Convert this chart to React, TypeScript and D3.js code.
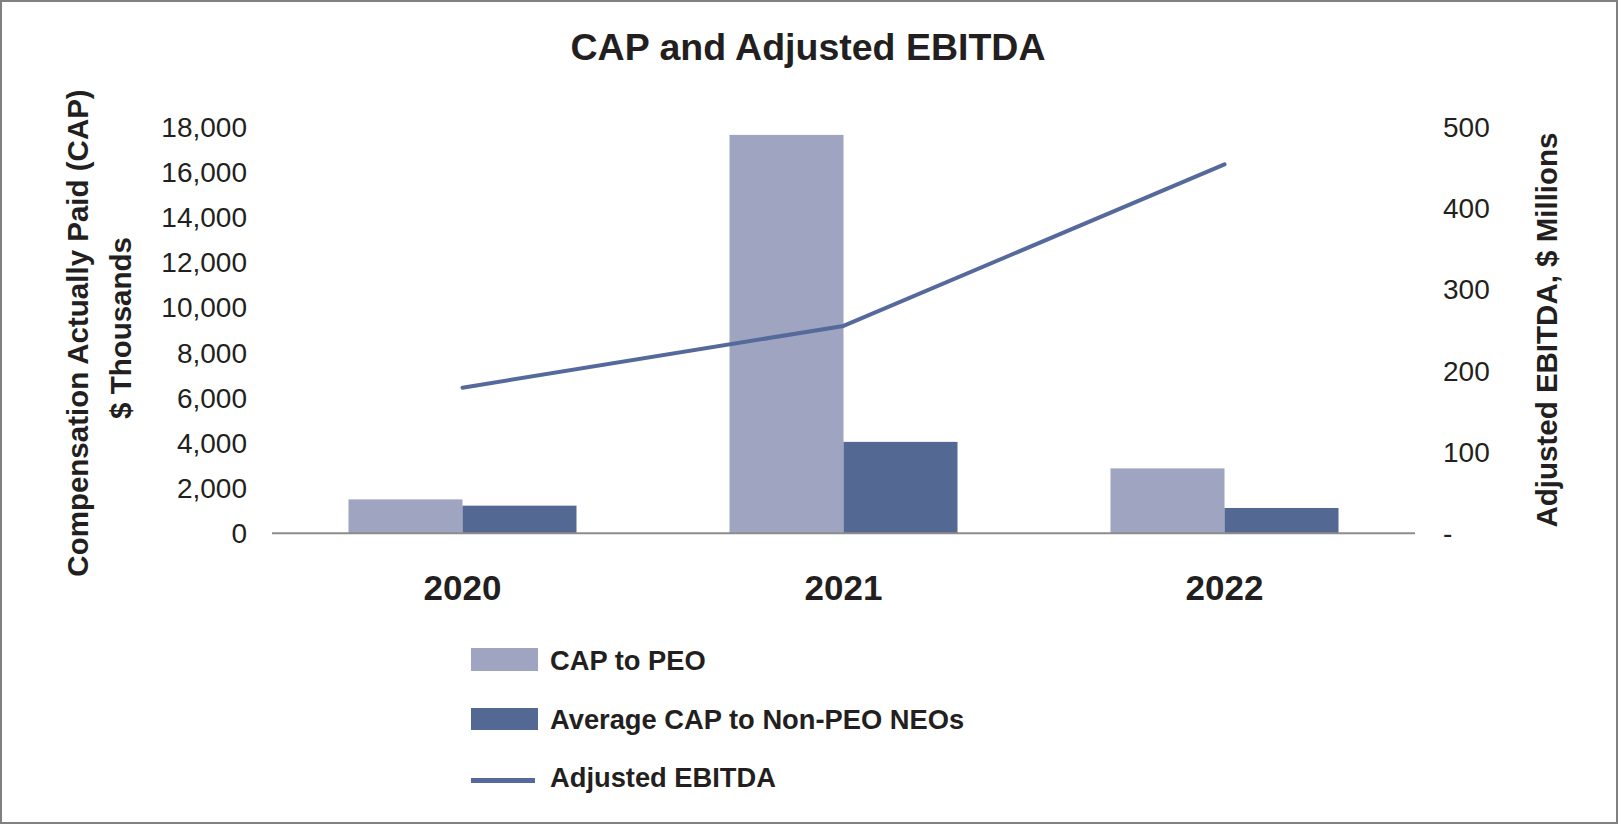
import React from "react";
import * as d3 from "d3";

const years = ["2020", "2021", "2022"];
const capPEO = [1490, 17650, 2865];
const capNEO = [1212, 4040, 1110];
const ebitda = [179, 255, 454];
const leftTicks = [0, 2000, 4000, 6000, 8000, 10000, 12000, 14000, 16000, 18000];
const rightTicks = [0, 100, 200, 300, 400, 500];
const seriesKeys = ["peo", "neo"];
const legendLabels = ["CAP to PEO", "Average CAP to Non-PEO NEOs", "Adjusted EBITDA"];

const W = 1618;
const H = 824;
const FONT = "'Liberation Sans', Arial, Helvetica, sans-serif";
const TEXT = "#231f20";
const C_PEO = "#9fa4c1";
const C_NEO = "#536893";
const C_LINE = "#55699b";

export default function App() {
  const x = d3.scaleBand<string>().domain(years).range([272, 1415]).padding(0);
  const x1 = d3
    .scaleBand<string>()
    .domain(seriesKeys)
    .range([0, x.bandwidth()])
    .paddingInner(0)
    .paddingOuter(0.671);
  const yL = d3.scaleLinear().domain([0, 18000]).range([533, 127]);
  const yR = d3.scaleLinear().domain([0, 500]).range([533, 127]);
  const fmt = d3.format(",");
  const line = d3
    .line<number>()
    .x((_, i) => (x(years[i]) as number) + x.bandwidth() / 2)
    .y((d) => yR(d));

  return (
    <svg
      width={W}
      height={H}
      style={{ position: "absolute", left: 0, top: 0, display: "block" }}
      fontFamily={FONT}
    >
      <rect x={1} y={1} width={W - 2} height={H - 2} fill="#ffffff" stroke="#808080" strokeWidth={2} />
      <text x={808} y={60} textAnchor="middle" fontSize={37.5} fontWeight="bold" fill={TEXT}>
        CAP and Adjusted EBITDA
      </text>

      {/* left axis ticks */}
      {leftTicks.map((t) => (
        <text key={"l" + t} x={247} y={yL(t) + 10} textAnchor="end" fontSize={28} fill={TEXT}>
          {fmt(t)}
        </text>
      ))}
      {/* right axis ticks */}
      {rightTicks.map((t) => (
        <text key={"r" + t} x={1443} y={yR(t) + 10} textAnchor="start" fontSize={28} fill={TEXT}>
          {t === 0 ? "-" : fmt(t)}
        </text>
      ))}

      {/* left axis title */}
      <text
        transform="translate(88,333) rotate(-90)"
        textAnchor="middle"
        fontSize={29.5}
        fontWeight="bold"
        fill={TEXT}
      >
        Compensation Actually Paid (CAP)
      </text>
      <text
        transform="translate(131,328) rotate(-90)"
        textAnchor="middle"
        fontSize={29.5}
        fontWeight="bold"
        fill={TEXT}
      >
        $ Thousands
      </text>
      {/* right axis title */}
      <text
        transform="translate(1557,330) rotate(-90)"
        textAnchor="middle"
        fontSize={29.5}
        fontWeight="bold"
        fill={TEXT}
      >
        Adjusted EBITDA, $ Millions
      </text>

      {/* bars */}
      {years.map((yr, i) => {
        const x0 = x(yr) as number;
        return (
          <g key={yr}>
            <rect
              x={x0 + (x1("peo") as number)}
              y={yL(capPEO[i])}
              width={x1.bandwidth()}
              height={yL(0) - yL(capPEO[i])}
              fill={C_PEO}
            />
            <rect
              x={x0 + (x1("neo") as number)}
              y={yL(capNEO[i])}
              width={x1.bandwidth()}
              height={yL(0) - yL(capNEO[i])}
              fill={C_NEO}
            />
          </g>
        );
      })}

      {/* x axis baseline */}
      <line x1={272} x2={1415} y1={533.3} y2={533.3} stroke="#8c8c8c" strokeWidth={2} />

      {/* EBITDA line */}
      <path d={line(ebitda) || ""} fill="none" stroke={C_LINE} strokeWidth={4} strokeLinejoin="round" strokeLinecap="round" />

      {/* year labels */}
      {years.map((yr) => (
        <text
          key={"yl" + yr}
          x={(x(yr) as number) + x.bandwidth() / 2}
          y={600}
          textAnchor="middle"
          fontSize={35}
          fontWeight="bold"
          fill={TEXT}
        >
          {yr}
        </text>
      ))}

      {/* legend */}
      <rect x={471} y={648} width={67} height={23} fill={C_PEO} />
      <text x={550} y={670} fontSize={27.3} fontWeight="bold" fill={TEXT}>
        {legendLabels[0]}
      </text>
      <rect x={471} y={708} width={67} height={22} fill={C_NEO} />
      <text x={550} y={729} fontSize={27.3} fontWeight="bold" fill={TEXT}>
        {legendLabels[1]}
      </text>
      <line x1={471} x2={535} y1={780.5} y2={780.5} stroke={C_LINE} strokeWidth={5} />
      <text x={550} y={787} fontSize={27.3} fontWeight="bold" fill={TEXT}>
        {legendLabels[2]}
      </text>
    </svg>
  );
}
